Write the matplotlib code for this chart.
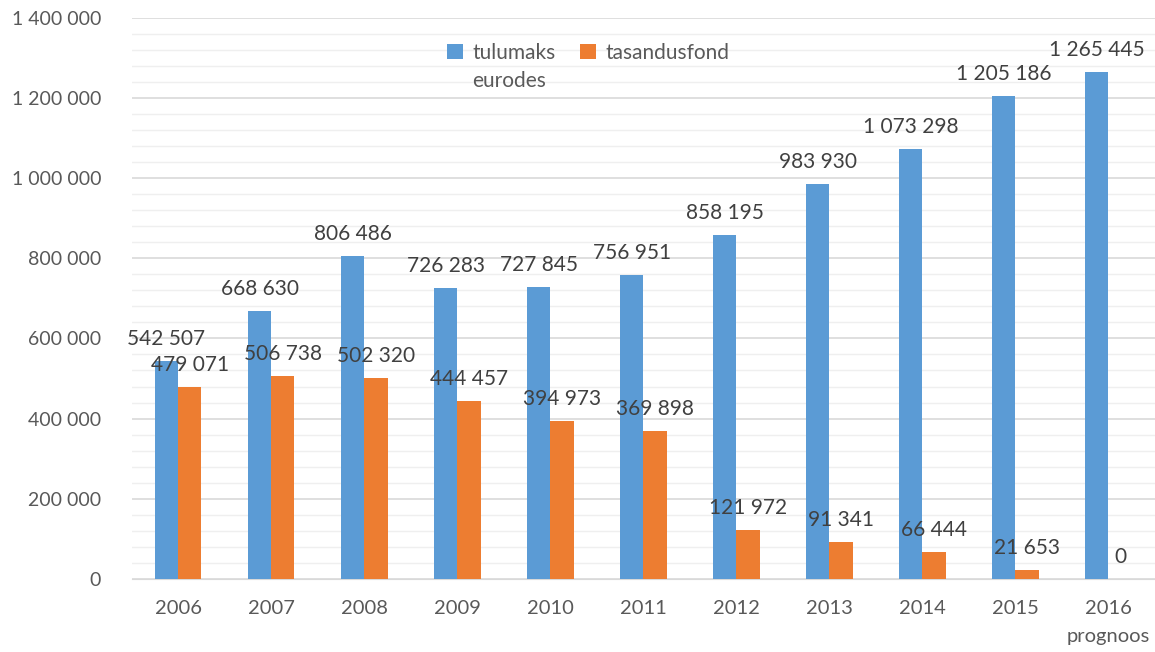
import matplotlib.pyplot as plt
import numpy as np
from matplotlib.ticker import FuncFormatter, MultipleLocator

aastad = ['2006', '2007', '2008', '2009', '2010', '2011', '2012', '2013', '2014', '2015', '2016\nprognoos']
tulumaks = [542507, 668630, 806486, 726283, 727845, 756951, 858195, 983930, 1073298, 1205186, 1265445]
tasandusfond = [479071, 506738, 502320, 444457, 394973, 369898, 121972, 91341, 66444, 21653, 0]

sinine = '#5b9bd5'
oranz = '#ed7d31'
hall = '#595959'


def tuhanded(valor, posicao):
    return f'{int(valor):,}'.replace(',', ' ')


plt.rcParams['font.family'] = ['Lato', 'DejaVu Sans']

fig = plt.figure(figsize=(11.55, 6.52), dpi=100)
ax = fig.add_axes([0.114, 0.112, 0.886, 0.861])

x = np.arange(len(aastad))
w = 0.25
b1 = ax.bar(x - w / 2, tulumaks, w, color=sinine, label='tulumaks', zorder=3)
b2 = ax.bar(x + w / 2, tasandusfond, w, color=oranz, label='tasandusfond', zorder=3)

# andmesildid tulpade kohal
for r in list(b1) + list(b2):
    ax.text(r.get_x() + r.get_width() / 2, r.get_height() + 30000, tuhanded(r.get_height(), 0),
            ha='center', va='bottom', fontsize=15, color='#404040', zorder=4)

ax.set_xlim(-0.5, len(aastad) - 0.5)
ax.set_ylim(0, 1400000)
ax.yaxis.set_major_locator(MultipleLocator(200000))
ax.yaxis.set_minor_locator(MultipleLocator(40000))
ax.yaxis.set_major_formatter(FuncFormatter(tuhanded))
ax.grid(axis='y', which='major', color='#d9d9d9', linewidth=1.2, zorder=0)
ax.grid(axis='y', which='minor', color='#efefef', linewidth=1.0, zorder=0)

ax.set_xticks(x)
ax.set_xticklabels(aastad, linespacing=1.8)
ax.tick_params(axis='both', which='both', length=0, labelsize=14, labelcolor=hall)
ax.tick_params(axis='x', labelsize=14.5, pad=15)
ax.tick_params(axis='y', pad=22)
for s in ['top', 'right', 'left']:
    ax.spines[s].set_visible(False)
ax.spines['bottom'].set_color('#d9d9d9')

leg = ax.legend(loc='upper left', bbox_to_anchor=(0.29, 0.988), ncol=2, frameon=False,
                fontsize=15, handlelength=0.75, handleheight=0.75, columnspacing=1.2,
                handletextpad=0.45, labelcolor=hall)

# teine rida esimese legendi kirje all
fig.canvas.draw()
bb = leg.get_texts()[0].get_window_extent().transformed(fig.transFigure.inverted())
fig.text(bb.x0, bb.y0 - 0.012, 'eurodes', ha='left', va='top', fontsize=15, color=hall)

fig.savefig('out.png', dpi=100)
